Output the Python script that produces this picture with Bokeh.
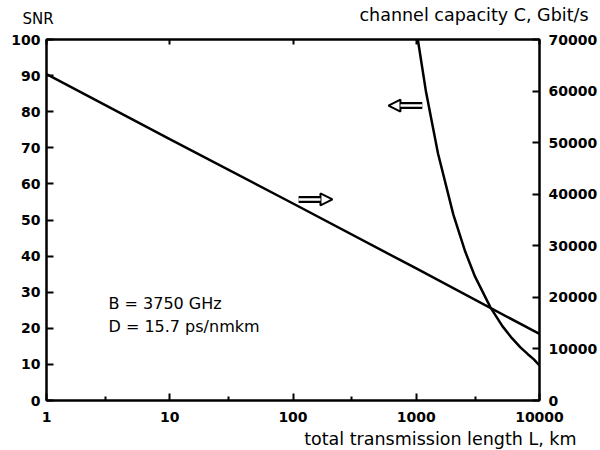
from bokeh.plotting import figure
from bokeh.models import (LinearAxis, LogAxis, Range1d, FixedTicker, PrintfTickFormatter,
                          Label, Arrow, NormalHead)
from bokeh.embed import file_html
from bokeh.resources import INLINE

# ---- data ----
L_cap = [1, 10, 100, 1000, 10000]                 # km
C_cap = [63300, 50700, 38200, 25600, 12900]       # Gbit/s (right axis)

L_snr = [1030, 1200, 1500, 2000, 2500, 3000, 4000, 5000, 6000, 7000, 8000, 9000, 10000]
SNR = [100, 85.5, 68.5, 51.5, 41.2, 34.3, 25.8, 20.6, 17.2, 14.7, 12.9, 11.4, 9.7]

x_ticks = [1, 10, 100, 1000, 10000]
x_minor = [3, 30, 300, 3000]
snr_ticks = [0, 10, 20, 30, 40, 50, 60, 70, 80, 90, 100]
cap_ticks = [0, 10000, 20000, 30000, 40000, 50000, 60000, 70000]

FONT = "DejaVu Sans"

p = figure(width=600, height=450, x_axis_type="log", x_range=(1, 10000), y_range=(0, 100),
           output_backend="svg", toolbar_location=None,
           min_border_left=46, min_border_right=61, min_border_top=39, min_border_bottom=50)
p.extra_y_ranges = {"cap": Range1d(0, 70000)}
p.xgrid.visible = False
p.ygrid.visible = False
p.outline_line_color = "black"
p.outline_line_width = 2
p.background_fill_color = "white"
p.border_fill_color = "white"

def style(ax, tick_in=7, labels=True, standoff=5):
    ax.axis_line_width = 2
    ax.axis_line_color = "black"
    ax.major_tick_line_width = 2
    ax.major_tick_in = tick_in
    ax.major_tick_out = 0
    ax.minor_tick_out = 0
    ax.minor_tick_in = 0
    ax.major_label_standoff = standoff
    ax.major_label_text_font = FONT
    ax.major_label_text_font_style = "bold"
    ax.major_label_text_font_size = "14px"
    ax.major_label_text_color = "black"
    if not labels:
        ax.major_label_text_alpha = 0
        ax.major_label_text_font_size = "1px"

# bottom axis
xa = p.xaxis[0]
xa.ticker = FixedTicker(ticks=x_ticks, minor_ticks=x_minor)
xa.formatter = PrintfTickFormatter(format="%d")
style(xa, tick_in=7, standoff=11)
xa.minor_tick_in = 4
xa.minor_tick_line_width = 2
xa.minor_tick_line_color = "black"

# left axis
ya = p.yaxis[0]
ya.ticker = FixedTicker(ticks=snr_ticks, minor_ticks=[])
style(ya, tick_in=7, standoff=6)

# right axis
ra = LinearAxis(y_range_name="cap", ticker=FixedTicker(ticks=cap_ticks, minor_ticks=[]))
style(ra, tick_in=7, standoff=9)
p.add_layout(ra, "right")

# top axis
ta = LogAxis(ticker=FixedTicker(ticks=x_ticks, minor_ticks=[]))
style(ta, tick_in=5, labels=False, standoff=0)
p.add_layout(ta, "above")

# curves
p.line(L_cap, C_cap, y_range_name="cap", line_color="black", line_width=2.5)
p.line(L_snr, SNR, line_color="black", line_width=2.5)

# hollow arrows
def hollow_arrow(x0, x1, xb, y):
    p.add_layout(Arrow(x_start=x0, x_end=x1, y_start=y, y_end=y, line_width=7, line_color="black",
                       line_cap="butt",
                       end=NormalHead(size=12, fill_color="white", line_color="black", line_width=2)))
    p.add_layout(Arrow(x_start=x0, x_end=xb, y_start=y, y_end=y, line_width=2.5, line_color="white",
                       line_cap="butt", end=None))

hollow_arrow(1120, 595, 745, 81.7)   # points left -> SNR axis
hollow_arrow(111, 209, 167, 55.7)    # points right -> capacity axis

def lab(text, x, y, align="left", size="15px", place="center"):
    lb = Label(x=x, y=y, x_units="screen", y_units="screen", text=text,
               text_font=FONT, text_font_size=size, text_align=align,
               text_baseline="middle", text_color="black")
    if place == "center":
        p.add_layout(lb)
    else:
        p.add_layout(lb, place)

lab("SNR", -24, 21, size="15px", place="above")
lab("channel capacity C, Gbit/s", 542, 7, align="right", size="17.5px", place="above")
lab("total transmission length L, km", 530, 6, align="right", size="17.5px", place="below")
lab("B = 3750 GHz", 62, 97, size="16px")
lab("D = 15.7 ps/nmkm", 62, 74, size="16px")

open("out.html", "w").write(file_html(p, INLINE))
